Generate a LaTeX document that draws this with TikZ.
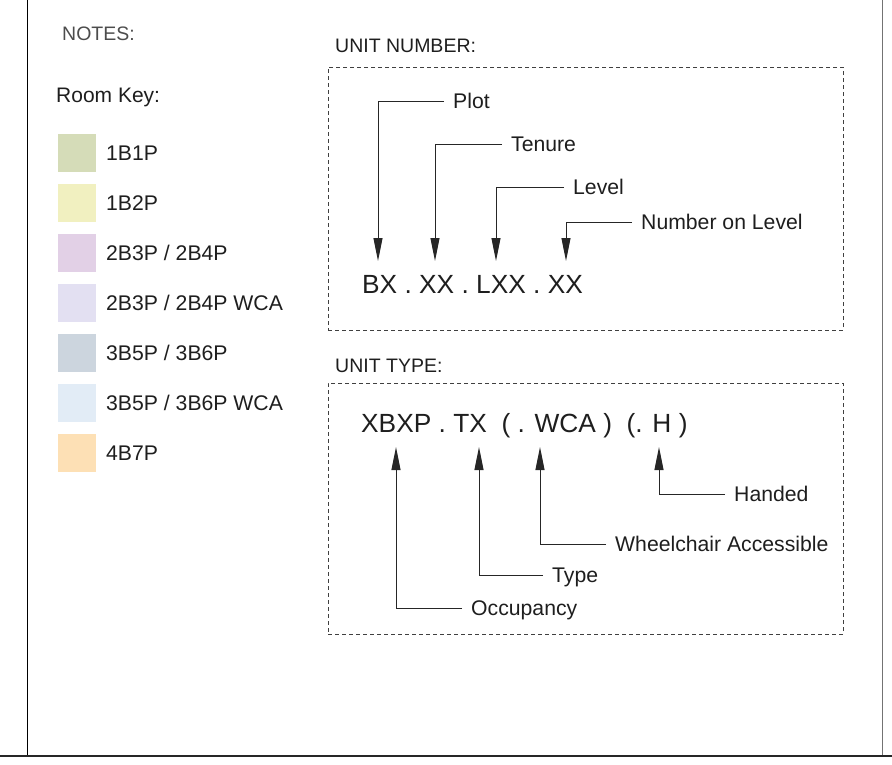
\documentclass[tikz,border=0pt]{standalone}
\usepackage{fontspec}
\setmainfont{Liberation Sans}
\usetikzlibrary{arrows.meta}

\definecolor{keysage}{HTML}{D5DCB8}
\definecolor{keylemon}{HTML}{F1F0C0}
\definecolor{keymauve}{HTML}{E2D0E6}
\definecolor{keylilac}{HTML}{E3E0F2}
\definecolor{keyslate}{HTML}{CCD5DE}
\definecolor{keysky}{HTML}{E2ECF6}
\definecolor{keypeach}{HTML}{FDE0B5}
\definecolor{inkgrey}{HTML}{1E1E1E}

\tikzset{
	swatch/.style = {rectangle, minimum size = 38pt, inner sep = 0pt},
	keytext/.style = {anchor = west, inner sep = 0pt, text height = 15pt, text depth = 0pt,
		font = \fontsize{21.2}{25}\selectfont, text = inkgrey},
	heading/.style = {anchor = base west, inner sep = 0pt,
		font = \fontsize{19.5}{23}\selectfont, text = inkgrey},
	codetext/.style = {anchor = base west, inner sep = 0pt,
		font = \fontsize{26.3}{31}\selectfont, text = inkgrey},
	tag/.style = {keytext, inner xsep = 9pt},
	dashbox/.style = {rectangle, draw = black!75, dash pattern = on 4pt off 3pt, line width = 1pt,
		minimum width = 515pt, minimum height = 251pt},
	leader/.style = {draw = black!85, line width = 1pt, -{Triangle[length = 23pt, width = 9pt]}}
}

\begin{document}
\begin{tikzpicture}[x = 1pt, y = -1pt]
\useasboundingbox (0,0) rectangle (892,764);

% sheet edges
\draw[line width = 1pt, black] (27,0) -- (27,756);
\draw[line width = 1pt, black!55] (882,0) -- (882,756);
\draw[line width = 1.5pt, black!85] (0,756) -- (892,756);

% notes column
\node[heading, text = black!70] (notes) at (62,40) {NOTES:};
\node[heading, font = \fontsize{21}{25}\selectfont] (roomkey) at (56,102) {Room Key:};

\node[swatch, fill = keysage] (s1) at (77,153) {};
\node[keytext] (k1) at (106,153) {1B1P};
\node[swatch, fill = keylemon] (s2) at (77,203) {};
\node[keytext] (k2) at (106,203) {1B2P};
\node[swatch, fill = keymauve] (s3) at (77,253) {};
\node[keytext] (k3) at (106,253) {2B3P / 2B4P};
\node[swatch, fill = keylilac] (s4) at (77,303) {};
\node[keytext] (k4) at (106,303) {2B3P / 2B4P WCA};
\node[swatch, fill = keyslate] (s5) at (77,353) {};
\node[keytext] (k5) at (106,353) {3B5P / 3B6P};
\node[swatch, fill = keysky] (s6) at (77,403) {};
\node[keytext] (k6) at (106,403) {3B5P / 3B6P WCA};
\node[swatch, fill = keypeach] (s7) at (77,453) {};
\node[keytext] (k7) at (106,453) {4B7P};

% unit number
\node[heading] (numtitle) at (335,52) {UNIT NUMBER:};
\node[dashbox, minimum height = 263pt] (numbox) at (585.5,198.5) {};
\node[codetext] (numcode) at (362,293) {BX . XX . LXX . XX};

\coordinate (plotend) at (378,261);
\coordinate (tenureend) at (435,261);
\coordinate (levelend) at (496,261);
\coordinate (nolend) at (566,261);

\node[tag] (plot) at (444,101) {Plot};
\node[tag] (tenure) at (502,144) {Tenure};
\node[tag] (level) at (564,187) {Level};
\node[tag] (nol) at (632,222) {Number on Level};

\draw[leader] (plot.west) -| (plotend);
\draw[leader] (tenure.west) -| (tenureend);
\draw[leader] (level.west) -| (levelend);
\draw[leader] (nol.west) -| (nolend);

% unit type
\node[heading] (typetitle) at (335,372) {UNIT TYPE:};
\node[dashbox] (typebox) at (585.5,508.5) {};
\node[codetext] (typecode) at (361,432) {XBXP . TX \ ( . WCA ) \ (. H )};

\coordinate (occend) at (396,447);
\coordinate (typeend) at (479,447);
\coordinate (wcaend) at (540,447);
\coordinate (handend) at (659,447);

\node[tag] (occupancy) at (462,608) {Occupancy};
\node[tag] (type) at (543,575) {Type};
\node[tag] (wca) at (606,544) {Wheelchair Accessible};
\node[tag] (handed) at (725,494) {Handed};

\draw[leader] (occupancy.west) -| (occend);
\draw[leader] (type.west) -| (typeend);
\draw[leader] (wca.west) -| (wcaend);
\draw[leader] (handed.west) -| (handend);
\end{tikzpicture}
\end{document}
